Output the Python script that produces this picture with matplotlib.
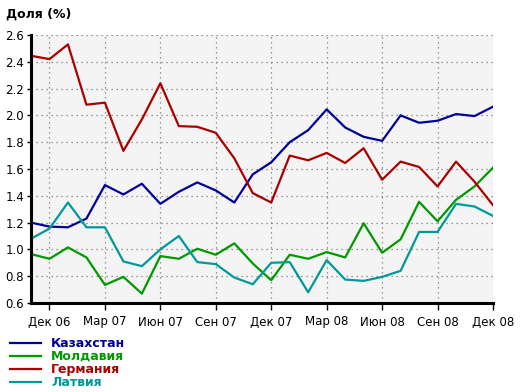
import matplotlib
matplotlib.use('Agg')
import matplotlib.pyplot as plt
import numpy as np

# monthly points, Nov 06 .. Dec 08
months = list(range(26))
kazakhstan = [1.20, 1.17, 1.165, 1.23, 1.48, 1.41, 1.49, 1.34, 1.43, 1.50, 1.44, 1.35, 1.56,
              1.65, 1.80, 1.89, 2.045, 1.91, 1.84, 1.81, 2.00, 1.945, 1.96, 2.01, 1.995, 2.065]
moldova = [0.965, 0.93, 1.015, 0.94, 0.735, 0.795, 0.67, 0.95, 0.93, 1.005, 0.96, 1.045, 0.895,
           0.77, 0.96, 0.93, 0.98, 0.94, 1.195, 0.975, 1.075, 1.355, 1.21, 1.37, 1.47, 1.61]
germany = [2.445, 2.42, 2.53, 2.08, 2.095, 1.735, 1.97, 2.24, 1.92, 1.915, 1.87, 1.68, 1.42,
           1.35, 1.70, 1.665, 1.72, 1.645, 1.755, 1.52, 1.655, 1.615, 1.47, 1.655, 1.505, 1.33]
latvia = [1.08, 1.155, 1.35, 1.165, 1.165, 0.91, 0.875, 1.0, 1.10, 0.905, 0.89, 0.79, 0.74,
          0.90, 0.905, 0.68, 0.92, 0.775, 0.765, 0.795, 0.84, 1.13, 1.13, 1.34, 1.32, 1.25]

series = [('Казахстан', kazakhstan, '#000099'),
          ('Молдавия', moldova, '#009900'),
          ('Германия', germany, '#aa0000'),
          ('Латвия', latvia, '#009999')]

tick_pos = [1, 4, 7, 10, 13, 16, 19, 22, 25]
tick_labels = ['Дек 06', 'Мар 07', 'Июн 07', 'Сен 07', 'Дек 07',
               'Мар 08', 'Июн 08', 'Сен 08', 'Дек 08']

fig = plt.figure(figsize=(5.2, 3.92), dpi=100)
ax = fig.add_axes([31/520, 1 - 303/392, 462/520, 268/392])
ax.set_facecolor('#f4f4f4')

lines = []
for name, vals, col in series:
    l, = ax.plot(months, vals, color=col, lw=1.6, label=name)
    lines.append(l)

ax.set_xlim(0, 25)
ax.set_ylim(0.6, 2.6)
ax.set_yticks(np.arange(0.6, 2.61, 0.2))
ax.set_yticklabels(['%.1f' % v for v in np.arange(0.6, 2.61, 0.2)])
ax.set_xticks(tick_pos)
ax.set_xticklabels(tick_labels)
ax.grid(True, color='#777777', linestyle=(0, (1, 3)), lw=0.9)
ax.set_axisbelow(True)

for s in ['top', 'right']:
    ax.spines[s].set_visible(False)
for s in ['left', 'bottom']:
    ax.spines[s].set_linewidth(2.2)
ax.tick_params(axis='x', length=5, width=1, labelsize=8.5, pad=4)
ax.tick_params(axis='y', length=3, width=1, labelsize=8.5, pad=2)

fig.text(6/520, 1 - 14/392, 'Доля (%)', fontsize=9, fontweight='bold', va='center')

leg = fig.legend(lines, [s[0] for s in series], loc='upper left',
                 bbox_to_anchor=(0.0, 1 - 327/392), frameon=False,
                 handlelength=2.5, handletextpad=0.8, labelspacing=0.0,
                 borderpad=0.3, prop={'size': 9, 'weight': 'bold'})
for txt, (_, _, col) in zip(leg.get_texts(), series):
    txt.set_color(col)

fig.savefig('out.png', dpi=100)
